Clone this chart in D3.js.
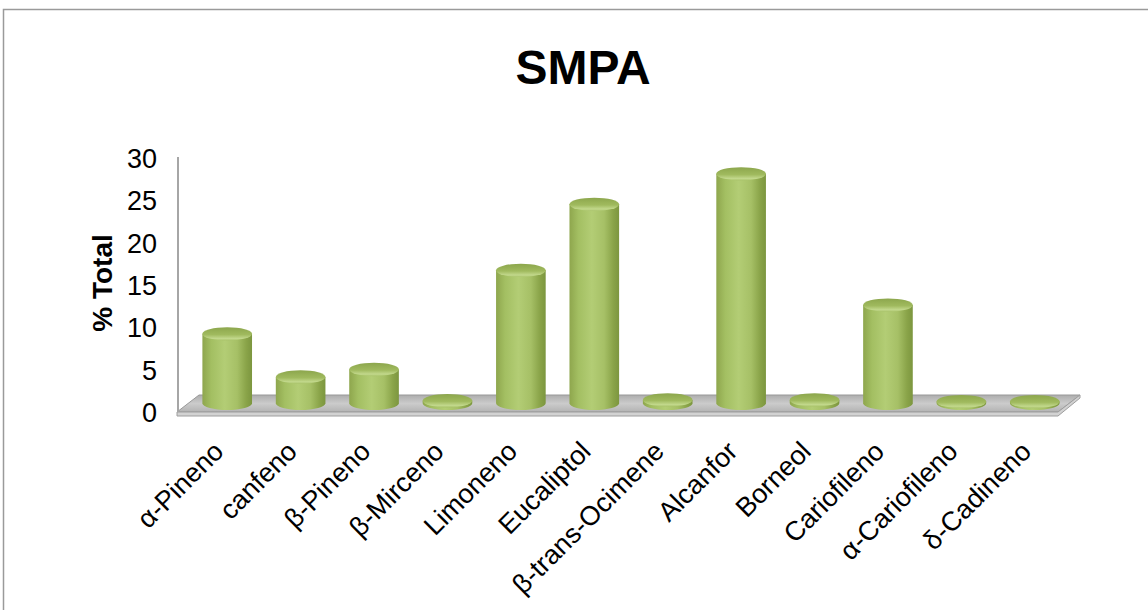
<!DOCTYPE html>
<html>
<head>
<meta charset="utf-8">
<script src="https://cdn.jsdelivr.net/npm/d3@7"></script>
<style>
  html, body { margin: 0; padding: 0; background: #fff; }
  svg { display: block; font-family: "Liberation Sans", Arial, sans-serif; }
</style>
</head>
<body>
<svg id="chart" width="1148" height="610"></svg>
<script>
const categories = ["α-Pineno", "canfeno", "β-Pineno", "β-Mirceno", "Limoneno", "Eucaliptol",
  "β-trans-Ocimene", "Alcanfor", "Borneol", "Cariofileno", "α-Cariofileno", "δ-Cadineno"];
const values = [8.2, 3.1, 4.0, 0.3, 15.7, 23.5, 0.4, 27.1, 0.4, 11.6, 0.2, 0.2];
const yTicks = [0, 5, 10, 15, 20, 25, 30];
const chartTitle = "SMPA";
const yTitle = "% Total";

const svg = d3.select("#chart");

// outer border
svg.append("rect").attr("x", 3.5).attr("y", 9.5).attr("width", 1160).attr("height", 700)
  .attr("fill", "#fff").attr("stroke", "#9a9a9a").attr("stroke-width", 1.5);

// scales
const y = d3.scaleLinear().domain([0, 30]).range([413, 159]);
const x = d3.scaleBand().domain(categories).range([177, 1058]).paddingInner(0).paddingOuter(0);
const depth = { dx: 22, dy: -17 };     // full floor depth
const barShift = { dx: 13.5, dy: -9.7 }; // bars sit mid-depth
const rx = x.bandwidth() * 0.338;
const ry = 6.7;

const defs = svg.append("defs");
const bodyGrad = defs.append("linearGradient").attr("id", "body").attr("x1", 0).attr("x2", 1).attr("y1", 0).attr("y2", 0);
[["0%", "#8ea64d"], ["18%", "#a3bf62"], ["45%", "#b3cd75"], ["70%", "#a6c066"], ["88%", "#8aa449"], ["100%", "#7c963f"]]
  .forEach(([o, c]) => bodyGrad.append("stop").attr("offset", o).attr("stop-color", c));
const topGrad = defs.append("linearGradient").attr("id", "top").attr("x1", 0).attr("x2", 0).attr("y1", 0).attr("y2", 1);
[["0%", "#8ca64c"], ["55%", "#a0ba5e"], ["85%", "#c2d88c"], ["100%", "#a9c36a"]]
  .forEach(([o, c]) => topGrad.append("stop").attr("offset", o).attr("stop-color", c));
const floorGrad = defs.append("linearGradient").attr("id", "floor").attr("x1", 0).attr("x2", 0).attr("y1", 0).attr("y2", 1);
[["0%", "#adadad"], ["50%", "#cbcbcb"], ["100%", "#b3b3b3"]]
  .forEach(([o, c]) => floorGrad.append("stop").attr("offset", o).attr("stop-color", c));

// floor
const fx0 = x.range()[0], fx1 = x.range()[1], fy = y(0) - 1;
svg.append("path")
  .attr("d", `M${fx0},${fy} L${fx0 + depth.dx},${fy + depth.dy} L${fx1 + depth.dx},${fy + depth.dy} L${fx1},${fy} Z`)
  .attr("fill", "url(#floor)").attr("stroke", "#999").attr("stroke-width", 1);
svg.append("path")
  .attr("d", `M${fx0},${fy} L${fx1},${fy} L${fx1 + depth.dx},${fy + depth.dy} L${fx1 + depth.dx},${fy + depth.dy + 3} L${fx1},${fy + 4} L${fx0},${fy + 4} Z`)
  .attr("fill", "#d2d2d2").attr("stroke", "#9e9e9e").attr("stroke-width", 1);

// y axis
const yAxis = d3.axisLeft(y).tickValues(yTicks).tickSize(0).tickSizeOuter(0).tickPadding(21);
const gy = svg.append("g").attr("transform", `translate(178,0)`).call(yAxis);
gy.select(".domain").attr("stroke", "#a6a6a6").attr("stroke-width", 2).attr("d", `M0,${y(30) - 2}V${y(0) - 1}`);
gy.selectAll(".tick text").attr("font-size", 27).attr("fill", "#000")
  .attr("font-family", "'Liberation Sans', Arial, sans-serif");

// bars (cylinders)
const bars = svg.append("g");
categories.forEach((c, i) => {
  const cx = x(c) + x.bandwidth() / 2 + barShift.dx;
  const yb = y(0) + barShift.dy;
  const yt = y(values[i]) + barShift.dy;
  bars.append("path")
    .attr("d", `M${cx - rx},${yt} L${cx - rx},${yb} A${rx},${ry} 0 0 0 ${cx + rx},${yb} L${cx + rx},${yt} Z`)
    .attr("fill", "url(#body)");
  bars.append("ellipse").attr("cx", cx).attr("cy", yt).attr("rx", rx).attr("ry", ry)
    .attr("fill", "url(#top)");
});

// category labels
categories.forEach((c, i) => {
  const cx = x(c) + x.bandwidth() / 2 + barShift.dx;
  svg.append("text")
    .attr("transform", `translate(${cx - 2},453) rotate(-45)`)
    .attr("text-anchor", "end").attr("font-size", 27).attr("fill", "#000")
    .text(c);
});

// y title
svg.append("text")
  .attr("transform", `translate(112,283) rotate(-90)`)
  .attr("text-anchor", "middle").attr("font-size", 28).attr("font-weight", "bold")
  .text(yTitle);

// title
svg.append("text").attr("x", 583).attr("y", 84).attr("text-anchor", "middle")
  .attr("font-size", 48).attr("font-weight", "bold").text(chartTitle);
</script>
</body>
</html>
